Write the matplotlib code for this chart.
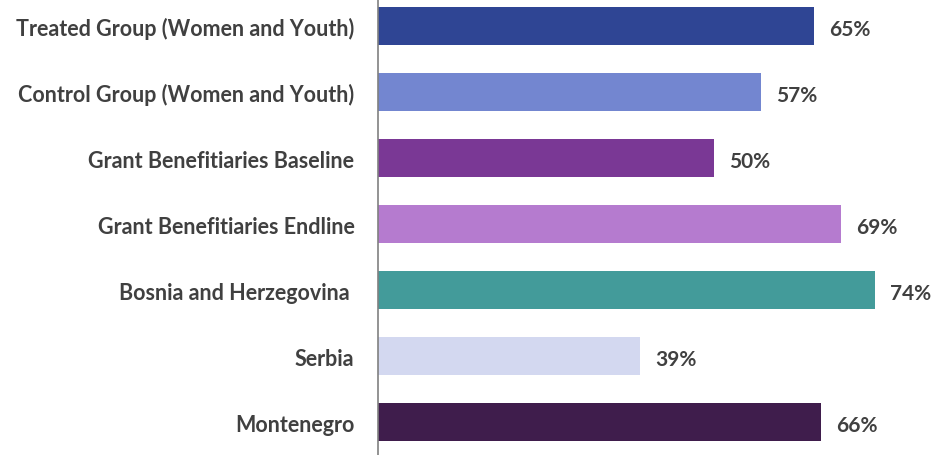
import matplotlib
matplotlib.use('Agg')
import matplotlib.pyplot as plt

categories = ['Treated Group (Women and Youth)', 'Control Group (Women and Youth)',
              'Grant Benefitiaries Baseline', 'Grant Benefitiaries Endline',
              'Bosnia and Herzegovina ', 'Serbia', 'Montenegro']
values = [65, 57, 50, 69, 74, 39, 66]
colors = ['#2F4594', '#7386D0', '#7A3895', '#B57BCF', '#439B9A', '#D3D8F0', '#3F1D4C']

plt.rcParams['font.family'] = ['Lato', 'DejaVu Sans']
fig = plt.figure(figsize=(9.38, 4.56), dpi=100)
ax = fig.add_axes([378 / 938, 0, 537 / 938, 462 / 456])

y = range(len(categories))
ax.barh(y, values, height=0.58, color=colors)
ax.set_ylim(len(categories) - 0.5, -0.5)
ax.set_xlim(0, 80)

for i, v in enumerate(values):
    ax.annotate(f'{v}%', (v, i), xytext=(11, -2), textcoords='offset points',
                va='center', ha='left', fontsize=15, fontweight='bold', color='#404040')

ax.set_yticks(list(y))
ax.set_yticklabels(categories, fontsize=15.5, fontweight='bold', color='#404040')
ax.tick_params(axis='y', length=0, pad=17)
ax.set_xticks([])
for s in ['top', 'right', 'bottom']:
    ax.spines[s].set_visible(False)
ax.spines['left'].set_color('#808080')
ax.spines['left'].set_linewidth(1.2)

fig.savefig('out.png', dpi=100)
